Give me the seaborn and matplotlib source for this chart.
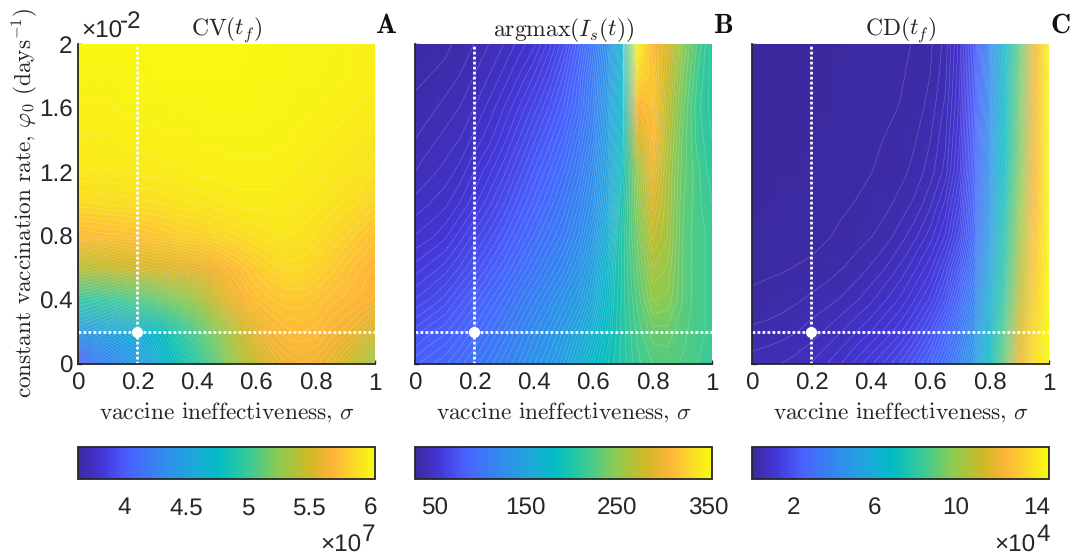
import numpy as np
import pandas as pd
import matplotlib
matplotlib.use('Agg')
import matplotlib.pyplot as plt
from matplotlib.colors import LinearSegmentedColormap
import seaborn as sns

sigma = [0, 0.05, 0.1, 0.15, 0.2, 0.25, 0.3, 0.35, 0.4, 0.45, 0.5, 0.55, 0.6, 0.65, 0.7, 0.75, 0.8, 0.85, 0.9, 0.95, 1]
phi = [2.0, 1.8, 1.6, 1.4, 1.2, 1.0, 0.8, 0.6, 0.4, 0.2, 0.0]

cv = [
    [6.03, 6.03, 6.03, 6.03, 6.03, 6.03, 6.03, 6.03, 6.03, 6.03, 6.03, 6.03, 6.03, 6.03, 6.02, 6.02, 6.02, 6.01, 6.00, 5.99, 5.98],
    [6.01, 6.01, 6.01, 6.02, 6.02, 6.03, 6.03, 6.03, 6.03, 6.03, 6.03, 6.03, 6.02, 6.02, 6.02, 6.01, 6.01, 6.00, 6.00, 5.99, 5.98],
    [5.99, 5.99, 5.99, 6.00, 6.00, 6.00, 6.01, 6.01, 6.01, 6.02, 6.02, 6.02, 6.02, 6.01, 6.01, 6.00, 6.00, 5.99, 5.98, 5.97, 5.96],
    [5.97, 5.97, 5.97, 5.98, 5.98, 5.99, 5.99, 5.99, 6.00, 6.00, 6.00, 6.00, 6.00, 6.00, 6.00, 5.99, 5.98, 5.97, 5.96, 5.95, 5.94],
    [5.95, 5.95, 5.95, 5.95, 5.96, 5.96, 5.97, 5.97, 5.98, 5.98, 5.99, 5.99, 5.99, 5.99, 5.98, 5.97, 5.96, 5.95, 5.94, 5.93, 5.91],
    [5.88, 5.88, 5.89, 5.89, 5.90, 5.90, 5.91, 5.92, 5.93, 5.94, 5.95, 5.96, 5.96, 5.96, 5.96, 5.95, 5.94, 5.92, 5.90, 5.88, 5.85],
    [5.72, 5.73, 5.74, 5.75, 5.76, 5.78, 5.80, 5.82, 5.83, 5.85, 5.87, 5.89, 5.91, 5.92, 5.93, 5.92, 5.90, 5.87, 5.84, 5.80, 5.76],
    [5.42, 5.44, 5.47, 5.50, 5.53, 5.55, 5.56, 5.58, 5.61, 5.65, 5.71, 5.76, 5.81, 5.85, 5.87, 5.87, 5.85, 5.81, 5.77, 5.73, 5.70],
    [4.95, 4.97, 5.00, 5.03, 5.07, 5.12, 5.18, 5.25, 5.33, 5.45, 5.58, 5.68, 5.74, 5.77, 5.79, 5.79, 5.77, 5.74, 5.72, 5.70, 5.68],
    [4.42, 4.46, 4.50, 4.56, 4.62, 4.72, 4.82, 4.95, 5.07, 5.20, 5.33, 5.48, 5.60, 5.68, 5.72, 5.73, 5.72, 5.68, 5.65, 5.60, 5.52],
    [3.95, 4.15, 4.27, 4.35, 4.42, 4.58, 4.72, 4.83, 4.95, 5.08, 5.22, 5.37, 5.48, 5.58, 5.64, 5.66, 5.65, 5.60, 5.52, 5.42, 5.28],
]
peak = [
    [32, 33, 34, 36, 38, 41, 44, 48, 52, 60, 70, 85, 105, 130, 170, 350, 312, 290, 250, 225, 205],
    [34, 35, 36, 38, 41, 44, 48, 53, 59, 67, 77, 91, 110, 135, 175, 330, 318, 282, 245, 220, 205],
    [36, 37, 39, 41, 44, 48, 53, 59, 66, 74, 83, 95, 113, 140, 180, 305, 315, 275, 240, 216, 205],
    [38, 40, 42, 44, 48, 52, 58, 65, 73, 81, 90, 102, 118, 145, 185, 280, 310, 270, 237, 218, 208],
    [41, 43, 45, 48, 53, 58, 64, 72, 80, 88, 97, 108, 125, 150, 190, 255, 300, 265, 235, 222, 210],
    [45, 47, 49, 53, 58, 64, 71, 79, 87, 95, 104, 115, 130, 155, 198, 248, 288, 263, 233, 222, 214],
    [50, 52, 55, 60, 66, 72, 79, 87, 95, 103, 111, 122, 138, 165, 205, 240, 275, 262, 232, 222, 218],
    [57, 60, 63, 68, 74, 81, 88, 96, 104, 112, 120, 131, 148, 175, 205, 234, 262, 255, 232, 222, 218],
    [65, 68, 72, 78, 84, 91, 98, 106, 114, 122, 131, 140, 155, 180, 205, 228, 250, 248, 232, 222, 218],
    [75, 79, 82, 87, 93, 100, 107, 115, 123, 131, 140, 152, 167, 185, 205, 222, 235, 235, 228, 222, 218],
    [85, 88, 91, 96, 102, 108, 115, 122, 130, 138, 148, 162, 178, 190, 205, 218, 226, 228, 225, 220, 215],
]
cd = [
    [.01, .01, .01, .02, .02, .02, .03, .04, .05, .06, .08, .13, .22, .43, 1.0, 2.2, 4.0, 6.5, 9.0, 12.2, 14.4],
    [.01, .01, .02, .02, .02, .03, .04, .05, .06, .08, .10, .15, .25, .47, 1.05, 2.3, 4.1, 6.6, 9.2, 12.3, 14.4],
    [.01, .02, .02, .02, .03, .03, .04, .06, .07, .09, .12, .18, .30, .55, 1.1, 2.4, 4.2, 6.7, 9.3, 12.3, 14.5],
    [.02, .02, .02, .03, .03, .04, .05, .07, .09, .12, .16, .24, .38, .62, 1.2, 2.5, 4.35, 6.85, 9.4, 12.35, 14.5],
    [.02, .02, .03, .03, .04, .05, .06, .08, .11, .15, .20, .30, .45, .70, 1.3, 2.6, 4.5, 7.0, 9.6, 12.4, 14.5],
    [.03, .03, .04, .05, .05, .07, .09, .12, .16, .21, .30, .42, .62, .95, 1.55, 2.75, 4.75, 7.25, 9.9, 12.6, 14.5],
    [.04, .05, .05, .06, .07, .10, .14, .19, .24, .32, .45, .62, .85, 1.2, 1.8, 2.9, 5.0, 7.5, 10.2, 12.8, 14.5],
    [.08, .09, .10, .12, .14, .18, .24, .30, .40, .52, .68, .90, 1.15, 1.6, 2.3, 3.4, 5.5, 7.8, 10.6, 13.0, 14.5],
    [.14, .16, .19, .23, .28, .33, .40, .50, .62, .78, .95, 1.2, 1.5, 2.0, 2.8, 3.9, 6.0, 8.2, 11.0, 13.2, 14.5],
    [.28, .30, .33, .38, .45, .54, .65, .78, .92, 1.1, 1.3, 1.6, 2.0, 2.6, 3.4, 4.5, 6.5, 8.7, 11.6, 13.5, 14.6],
    [.45, .48, .52, .58, .66, .78, .92, 1.1, 1.3, 1.5, 1.75, 2.1, 2.5, 3.1, 3.9, 5.0, 7.0, 9.2, 12.0, 13.8, 14.6],
]

titles = ['CV$(t_f)$', 'argmax$(I_s(t))$', 'CD$(t_f)$']
letters = ['A', 'B', 'C']
grids = [cv, peak, cd]
ranges = [(3.62, 6.04), (29, 354), (-0.02, 14.6)]
cbar_ticks = [[4, 4.5, 5, 5.5, 6], [50, 150, 250, 350], [2, 6, 10, 14]]
cbar_labels = [['4', '4.5', '5', '5.5', '6'], ['50', '150', '250', '350'], ['2', '6', '10', '14']]
cbar_power = ['7', '', '4']
x_ticks = [0, 0.2, 0.4, 0.6, 0.8, 1]
x_tick_labels = ['0', '0.2', '0.4', '0.6', '0.8', '1']
y_ticks = [0, 0.4, 0.8, 1.2, 1.6, 2]
y_tick_labels = ['0', '0.4', '0.8', '1.2', '1.6', '2']
dot_sigma = 0.2
dot_phi = 0.2
# panel B: above this value only every other contour line, the band at sigma=0.7 is too steep
sparse_above = [99, 190, 99]

W, H = 1073, 558
lefts = [78, 415, 752]
panel_w = 297
dark = '#262626'
serif = 'cmr10'
num_size = 17.5

sns.set_theme(style='ticks')
plt.rcParams['font.family'] = ['Liberation Sans', 'DejaVu Sans']
plt.rcParams['mathtext.fontset'] = 'cm'
plt.rcParams['axes.formatter.use_mathtext'] = True
plt.rcParams['text.hinting'] = 'no_hinting'

cmap = LinearSegmentedColormap.from_list('parula_orange', [
    (0.0, '#3b2a9f'), (0.08, '#4436d8'), (0.17, '#4a62ff'), (0.3, '#2f8fec'),
    (0.4, '#1cabd8'), (0.47, '#00bcc5'), (0.58, '#3ccb95'), (0.68, '#8fcb50'),
    (0.78, '#d0b825'), (0.86, '#ffb43a'), (0.92, '#fbd42c'), (1.0, '#f8fa10'),
], N=256)


def px_axes(fig, left, top, right, bottom):
    return fig.add_axes([left / W, 1 - bottom / H, (right - left) / W, (bottom - top) / H])


fig = plt.figure(figsize=(W / 100, H / 100), dpi=100)

for i in range(3):
    ax = px_axes(fig, lefts[i], 44, lefts[i] + panel_w, 364)
    cax = px_axes(fig, lefts[i], 447, lefts[i] + panel_w, 479)
    df = pd.DataFrame(grids[i], index=phi, columns=sigma)
    vmin, vmax = ranges[i]
    sns.heatmap(df, ax=ax, cmap=cmap, vmin=vmin, vmax=vmax, cbar=False,
                xticklabels=False, yticklabels=False, shading='gouraud')
    mesh = ax.collections[0]

    # fine white contour lines, in grid index coordinates like the heatmap
    col_idx = np.arange(len(sigma))
    row_idx = np.arange(len(phi))
    levels = np.linspace(vmin, vmax, 110)
    if sparse_above[i] < vmax:
        levels = levels[(levels < sparse_above[i]) | (np.arange(len(levels)) % 2 == 0)]
    ax.contour(col_idx, row_idx, df.values, levels=levels,
               colors='white', linewidths=0.4, alpha=0.28)

    x_step = sigma[1] - sigma[0]
    y_step = phi[0] - phi[1]
    ax.set_xlim(0, len(sigma) - 1)
    ax.set_ylim(len(phi) - 1, 0)
    ax.set_xticks([t / x_step for t in x_ticks])
    ax.set_xticklabels(x_tick_labels, fontsize=num_size)
    ax.set_yticks([(phi[0] - t) / y_step for t in y_ticks])
    ax.set_yticklabels(y_tick_labels if i == 0 else [], fontsize=num_size)
    ax.tick_params(direction='in', length=3, width=1, color=dark, labelcolor=dark, pad=6,
                   left=True, bottom=True, top=False, right=False)
    ax.tick_params(axis='y', pad=4)
    ax.set_xlabel('')
    ax.set_ylabel('')
    for side in ['left', 'bottom']:
        ax.spines[side].set_visible(True)
        ax.spines[side].set_color(dark)
        ax.spines[side].set_linewidth(1.3)
    ax.spines['top'].set_visible(False)
    ax.spines['right'].set_visible(False)

    xd = dot_sigma / x_step
    yd = (phi[0] - dot_phi) / y_step
    ax.axvline(xd, color='white', lw=2, ls=(0, (1, 0.8)), dash_capstyle='butt')
    ax.axhline(yd, color='white', lw=2, ls=(0, (1, 0.8)), dash_capstyle='butt')
    ax.plot([xd], [yd], 'o', color='white', ms=8, mew=0, zorder=5)

    fig.text((lefts[i] + panel_w / 2 + 0.5) / W, 1 - 418 / H, 'vaccine ineffectiveness, $\\sigma$', family=serif,
             fontsize=16.8, color=dark, ha='center', va='baseline')
    fig.text((lefts[i] + panel_w / 2) / W, 1 - 36 / H, titles[i], family=serif, fontsize=17,
             color=dark, ha='center', va='baseline')
    fig.text((lefts[i] + panel_w + 11) / W, 1 - 33 / H, letters[i], family='cmb10', fontsize=20,
             color='#111111', ha='center', va='baseline')

    cb = fig.colorbar(mesh, cax=cax, orientation='horizontal')
    cb.set_ticks(cbar_ticks[i])
    cb.set_ticklabels(cbar_labels[i], fontsize=num_size, color=dark)
    cb.ax.tick_params(direction='in', length=3, width=1, color=dark, pad=13, which='major')
    cb.ax.minorticks_off()
    cb.outline.set_edgecolor(dark)
    cb.outline.set_linewidth(1.3)

    if cbar_power[i] != '':
        right = lefts[i] + panel_w - 14
        fig.text(right / W, 1 - 552 / H, '\u00d710', fontsize=num_size, color=dark, ha='right', va='baseline')
        fig.text((right + 1) / W, 1 - 541 / H, cbar_power[i], fontsize=num_size, color=dark, ha='left', va='baseline')

fig.text(24 / W, 1 - 203 / H, 'constant vaccination rate, $\\varphi_0$ (days$^{-1}$)', family=serif,
         fontsize=16.7, color=dark, rotation=90, ha='center', va='center')
fig.text(81 / W, 1 - 38 / H, '\u00d710', fontsize=num_size, color=dark, ha='left', va='baseline')
fig.text(120 / W, 1 - 28 / H, '-2', fontsize=num_size, color=dark, ha='left', va='baseline')

fig.savefig('out.png', dpi=100)
